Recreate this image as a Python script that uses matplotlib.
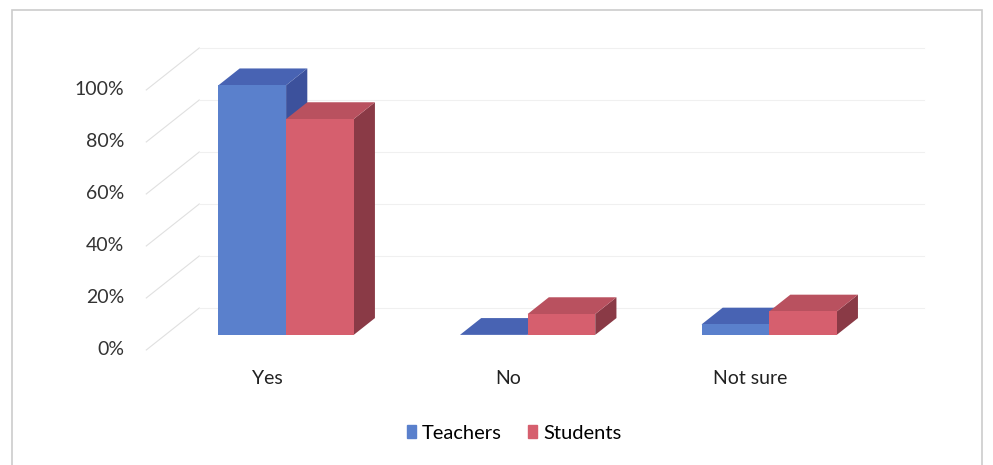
import matplotlib.pyplot as plt
from matplotlib.patches import Patch, Rectangle

plt.rcParams['font.family'] = ['Lato', 'DejaVu Sans']

categories = ['Yes', 'No', 'Not sure']
teachers = [96, 0, 4]
students = [83, 8, 9]
ticks = [0, 20, 40, 60, 80, 100]
tick_labels = ['0%', '20%', '40%', '60%', '80%', '100%']

# oblique "3D" look: depth shifts right and up
DU = 0.2195   # x shift for full depth (category units)
DV = 16.15    # y shift for full depth (percent units)
D0, D1 = 0.36, 0.76   # front / back depth of the bars
BW = 0.28             # bar width

faces = {
    'Teachers': ('#5a80cc', '#4863b3', '#3c519c'),
    'Students': ('#d65f6e', '#b9515f', '#8a3a46'),
}


def p(u, v, d):
    return u + d * DU, v + d * DV


def bar3d(ax, u0, h, cols):
    u1 = u0 + BW
    front, top, side = cols
    # right side
    pts = [p(u1, 0, D0), p(u1, 0, D1), p(u1, h, D1), p(u1, h, D0)]
    ax.fill(*zip(*pts), color=side, lw=0, zorder=3)
    # top
    pts = [p(u0, h, D0), p(u1, h, D0), p(u1, h, D1), p(u0, h, D1)]
    ax.fill(*zip(*pts), color=top, lw=0, zorder=3)
    # front
    pts = [p(u0, 0, D0), p(u1, 0, D0), p(u1, h, D0), p(u0, h, D0)]
    ax.fill(*zip(*pts), color=front, lw=0, zorder=3)


fig = plt.figure(figsize=(9.93, 4.65), dpi=100)
ax = fig.add_axes([0, 0, 1, 1])
ax.set_xlim(-1.1056, 3.006)
ax.set_ylim(-44.23, 134.6)
ax.axis('off')

# walls: side gridlines and back gridlines
for t, lab in zip(ticks, tick_labels):
    x0, y0 = p(-0.5, t, 0)
    x1, y1 = p(-0.5, t, 1)
    x2, y2 = p(2.5, t, 1)
    ax.plot([x0, x1], [y0, y1], color='#e0e0e0', lw=0.8, zorder=1)
    ax.plot([x1, x2], [y1, y2], color='#f0f0f0', lw=0.8, zorder=1)
    ax.text(-0.59, t, lab, ha='right', va='center', fontsize=14, color='#333333')

for i, cat in enumerate(categories):
    bar3d(ax, i - BW, teachers[i], faces['Teachers'])
    bar3d(ax, i, students[i], faces['Students'])
    ax.text(i, -10.8, cat, ha='center', va='center', fontsize=14, color='#222222')

handles = [Patch(color=faces['Teachers'][0], label='Teachers'),
           Patch(color=faces['Students'][0], label='Students')]
fig.legend(handles=handles, loc='center', bbox_to_anchor=(514 / 993, 1 - 433 / 465),
           ncol=2, frameon=False, fontsize=14.5, handlelength=0.45, handleheight=0.6,
           handletextpad=0.3, columnspacing=1.3)

fig.patches.append(Rectangle((12 / 993, -0.05), 970 / 993, 1.05 - 10 / 465,
                             transform=fig.transFigure, fill=False,
                             edgecolor='#cccccc', lw=1.2))

fig.savefig('out.png', dpi=100)
